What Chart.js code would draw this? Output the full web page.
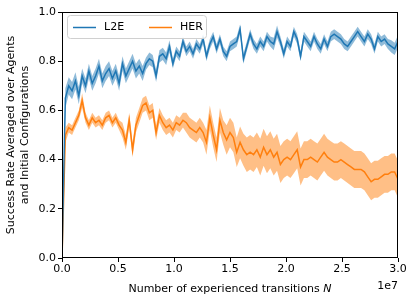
<!DOCTYPE html>
<html>
<head>
<meta charset="utf-8">
<script src="https://cdn.jsdelivr.net/npm/chart.js@4"></script>
<style>
  html, body { margin: 0; padding: 0; background: #fff; }
  #wrap { width: 415px; height: 302px; }
</style>
</head>
<body>
<div id="wrap"><canvas id="grafica"></canvas></div>
<script>
    // x positions: 0 .. 3.0e7 in steps of 3e5
    let steps = [];
    for (let i = 0; i <= 100; i++) steps.push(i * 3e5);

    let l2eMean = [0.00,0.65,0.70,0.68,0.72,0.66,0.74,0.70,0.76,0.71,
        0.74,0.78,0.72,0.75,0.77,0.73,0.76,0.71,0.79,0.74,
        0.77,0.80,0.76,0.78,0.75,0.79,0.81,0.80,0.74,0.82,
        0.83,0.81,0.86,0.79,0.84,0.82,0.88,0.84,0.86,0.83,
        0.87,0.85,0.89,0.82,0.87,0.90,0.85,0.89,0.84,0.82,
        0.86,0.87,0.88,0.93,0.81,0.86,0.91,0.87,0.85,0.88,
        0.86,0.90,0.88,0.87,0.92,0.88,0.83,0.88,0.86,0.92,
        0.89,0.82,0.90,0.88,0.86,0.90,0.87,0.85,0.89,0.86,
        0.90,0.91,0.90,0.89,0.87,0.86,0.88,0.90,0.92,0.90,
        0.88,0.91,0.89,0.85,0.90,0.88,0.89,0.87,0.86,0.85,0.88];
    let l2eSpread = [0.00,0.04,0.035,0.035,0.035,0.035,0.03,0.03,0.03,0.03,
        0.03,0.03,0.03,0.03,0.03,0.03,0.03,0.03,0.03,0.03,
        0.03,0.03,0.03,0.03,0.03,0.025,0.025,0.025,0.025,0.025,
        0.025,0.025,0.025,0.02,0.02,0.02,0.02,0.02,0.02,0.02,
        0.02,0.02,0.02,0.02,0.02,0.02,0.02,0.02,0.02,0.02,
        0.02,0.02,0.02,0.02,0.02,0.02,0.02,0.02,0.02,0.02,
        0.02,0.02,0.02,0.025,0.025,0.02,0.02,0.02,0.02,0.02,
        0.02,0.02,0.02,0.02,0.02,0.02,0.02,0.02,0.02,0.02,
        0.02,0.02,0.02,0.02,0.02,0.02,0.02,0.02,0.02,0.02,
        0.02,0.02,0.02,0.02,0.02,0.02,0.02,0.02,0.025,0.025,0.025];

    let herMean = [0.00,0.50,0.53,0.52,0.55,0.58,0.64,0.57,0.54,0.57,
        0.55,0.56,0.54,0.57,0.58,0.55,0.57,0.54,0.52,0.47,
        0.56,0.44,0.54,0.58,0.62,0.63,0.59,0.60,0.51,0.58,
        0.55,0.53,0.54,0.52,0.55,0.54,0.56,0.55,0.53,0.52,
        0.51,0.53,0.51,0.47,0.57,0.50,0.44,0.56,0.51,0.48,
        0.51,0.49,0.43,0.47,0.44,0.42,0.43,0.42,0.44,0.41,
        0.45,0.42,0.44,0.41,0.43,0.38,0.40,0.41,0.40,0.42,
        0.44,0.37,0.40,0.40,0.41,0.40,0.39,0.41,0.43,0.41,
        0.40,0.39,0.39,0.40,0.39,0.38,0.37,0.36,0.36,0.36,
        0.35,0.33,0.31,0.32,0.32,0.33,0.34,0.34,0.35,0.35,0.32];
    let herSpread = [0.00,0.03,0.02,0.02,0.02,0.02,0.03,0.02,0.02,0.02,
        0.02,0.02,0.02,0.02,0.02,0.02,0.02,0.02,0.03,0.03,
        0.03,0.03,0.03,0.03,0.03,0.03,0.03,0.03,0.03,0.03,
        0.03,0.03,0.03,0.03,0.03,0.03,0.03,0.04,0.04,0.04,
        0.04,0.04,0.04,0.05,0.05,0.05,0.05,0.05,0.05,0.06,
        0.06,0.06,0.06,0.065,0.065,0.07,0.07,0.07,0.07,0.075,
        0.075,0.075,0.075,0.075,0.075,0.075,0.075,0.075,0.075,0.075,
        0.075,0.075,0.075,0.075,0.075,0.075,0.075,0.075,0.075,0.075,
        0.075,0.075,0.075,0.075,0.075,0.075,0.075,0.075,0.075,0.075,
        0.075,0.075,0.075,0.075,0.075,0.075,0.075,0.075,0.075,0.075,0.075];

    let seriesNames = ["L2E", "HER"];
    let yTicks = [0.0, 0.2, 0.4, 0.6, 0.8, 1.0];
    let xTicks = [0, 0.5e7, 1.0e7, 1.5e7, 2.0e7, 2.5e7, 3.0e7];

    const azul = "rgb(31,119,180)";
    const naranja = "rgb(255,127,14)";
    const fuente = "'DejaVu Sans', sans-serif";

    function puntos(arr) {
        return steps.map((x, i) => ({ x: x, y: arr[i] }));
    }
    function banda(mean, spread, signo) {
        return steps.map((x, i) => ({ x: x, y: mean[i] + signo * spread[i] }));
    }

    // legend inside the plot, axis title, offset text and frame
    const extras = {
        id: "extras",
        afterDraw(chart) {
            const ctx = chart.ctx;
            const a = chart.chartArea;
            ctx.save();
            ctx.strokeStyle = "#000";
            ctx.lineWidth = 1;
            ctx.strokeRect(a.left + 0.5, a.top + 0.5, a.right - a.left - 1, a.bottom - a.top - 1);

            // legend box
            const lx = a.left + 5, ly = a.top + 3, lw = 139, lh = 23;
            ctx.fillStyle = "rgba(255,255,255,0.8)";
            ctx.strokeStyle = "#d0d0d0";
            ctx.beginPath();
            ctx.roundRect(lx + 0.5, ly + 0.5, lw, lh, 3);
            ctx.fill();
            ctx.stroke();
            ctx.font = "11px " + fuente;
            ctx.textBaseline = "middle";
            ctx.lineWidth = 1.5;
            const cols = [azul, naranja];
            const offs = [0, 76];
            seriesNames.forEach((n, i) => {
                const x0 = lx + 6 + offs[i];
                const yy = ly + lh / 2 + 1;
                ctx.strokeStyle = cols[i];
                ctx.beginPath();
                ctx.moveTo(x0, yy);
                ctx.lineTo(x0 + 23, yy);
                ctx.stroke();
                ctx.fillStyle = "#000";
                ctx.textAlign = "left";
                ctx.fillText(n, x0 + 31, yy);
            });

            // x title
            ctx.fillStyle = "#000";
            ctx.textBaseline = "alphabetic";
            const t1 = "Number of experienced transitions ";
            ctx.font = "11px " + fuente;
            const w1 = ctx.measureText(t1).width;
            ctx.font = "italic 11px " + fuente;
            const w2 = ctx.measureText("N").width;
            const cx = (a.left + a.right) / 2;
            let sx = cx - (w1 + w2) / 2;
            ctx.font = "11px " + fuente;
            ctx.textAlign = "left";
            ctx.fillText(t1, sx, 292);
            ctx.font = "italic 11px " + fuente;
            ctx.fillText("N", sx + w1, 292);
            ctx.font = "11px " + fuente;
            ctx.textAlign = "right";
            ctx.fillText("1e7", a.right, 289);
            ctx.restore();
        }
    };

    let grafica = document.getElementById("grafica").getContext("2d");

    var chart = new Chart(grafica, {
        type: "line",
        data: {
            datasets: [
                {
                    label: "L2E upper",
                    data: banda(l2eMean, l2eSpread, 1),
                    borderWidth: 0,
                    pointRadius: 0,
                    backgroundColor: "rgba(31,119,180,0.5)",
                    fill: "+1"
                },
                {
                    label: "L2E lower",
                    data: banda(l2eMean, l2eSpread, -1),
                    borderWidth: 0,
                    pointRadius: 0,
                    fill: false
                },
                {
                    label: "HER upper",
                    data: banda(herMean, herSpread, 1),
                    borderWidth: 0,
                    pointRadius: 0,
                    backgroundColor: "rgba(255,127,14,0.5)",
                    fill: "+1"
                },
                {
                    label: "HER lower",
                    data: banda(herMean, herSpread, -1),
                    borderWidth: 0,
                    pointRadius: 0,
                    fill: false
                },
                {
                    label: seriesNames[0],
                    data: puntos(l2eMean),
                    borderColor: azul,
                    borderWidth: 1.5,
                    pointRadius: 0,
                    fill: false
                },
                {
                    label: seriesNames[1],
                    data: puntos(herMean),
                    borderColor: naranja,
                    borderWidth: 1.5,
                    pointRadius: 0,
                    fill: false
                }
            ]
        },
        options: {
            responsive: true,
            maintainAspectRatio: false,
            animation: false,
            layout: { padding: { top: 12, right: 17, left: 0, bottom: 0 } },
            plugins: {
                legend: { display: false },
                tooltip: { enabled: false }
            },
            scales: {
                x: {
                    type: "linear",
                    min: 0,
                    max: 3e7,
                    afterBuildTicks: (s) => { s.ticks = xTicks.map(v => ({ value: v })); },
                    afterFit: (s) => { s.height = 44; },
                    grid: { drawOnChartArea: false, drawTicks: true, tickLength: 4, color: "#000" },
                    border: { display: false },
                    ticks: {
                        color: "#000",
                        font: { family: fuente, size: 11 },
                        padding: 1,
                        maxRotation: 0,
                        callback: (v) => (v / 1e7).toFixed(1)
                    }
                },
                y: {
                    min: 0,
                    max: 1,
                    afterBuildTicks: (s) => { s.ticks = yTicks.map(v => ({ value: v })); },
                    afterFit: (s) => { s.width = 62; },
                    grid: { drawOnChartArea: false, drawTicks: true, tickLength: 4, color: "#000" },
                    border: { display: false },
                    title: {
                        display: true,
                        text: ["Success Rate Averaged over Agents", "and Initial Configurations"],
                        color: "#000",
                        font: { family: fuente, size: 11 },
                        padding: { top: 5, bottom: 0 }
                    },
                    ticks: {
                        color: "#000",
                        font: { family: fuente, size: 11 },
                        padding: 2,
                        callback: (v) => v.toFixed(1)
                    }
                }
            }
        },
        plugins: [extras]
    });
</script>
</body>
</html>
